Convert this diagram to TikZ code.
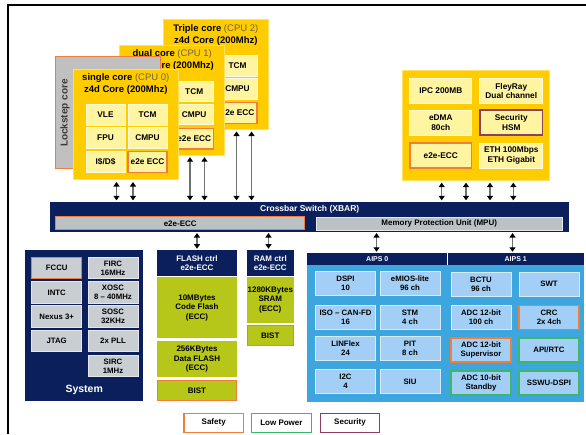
\documentclass[tikz,border=0pt]{standalone}
\usepackage{fontspec}
\setmainfont{Liberation Sans}
\usetikzlibrary{arrows.meta}
\definecolor{coreyel}{HTML}{FFCC00}
\definecolor{coreedge}{HTML}{FFE060}
\definecolor{cellyel}{HTML}{FFF4A0}
\definecolor{cellyelb}{HTML}{FFFBE2}
\definecolor{lockgray}{HTML}{C0C0C0}
\definecolor{locktext}{HTML}{3A3A3A}
\definecolor{cpugray}{HTML}{6E6448}
\definecolor{safety}{HTML}{F07D3A}
\definecolor{lowpow}{HTML}{3DB86B}
\definecolor{secur}{HTML}{8E3D63}
\definecolor{navy}{HTML}{0B1F5C}
\definecolor{sysgray}{HTML}{C9CED3}
\definecolor{sysgrayb}{HTML}{E4E8EC}
\definecolor{flashgreen}{HTML}{B7C71A}
\definecolor{aipsblue}{HTML}{3DA6DE}
\definecolor{cellblue}{HTML}{A3CFF6}
\definecolor{cellblueb}{HTML}{D6EBFB}
\definecolor{bargray}{HTML}{BAC2C6}
\definecolor{arrowgray}{HTML}{707070}
\tikzset{
  base/.style={rectangle, inner sep=0pt, outer sep=0pt, align=center,
    font=\fontsize{8}{9.5}\selectfont\bfseries, text=black},
  corebox/.style={base, fill=coreyel, draw=coreedge, line width=0.6pt,
    minimum width=105pt, minimum height=110pt},
  coretitle/.style={inner sep=0pt, font=\fontsize{9.5}{11}\selectfont\bfseries, text=black},
  ycell/.style={base, fill=cellyel, draw=cellyelb, line width=1pt,
    minimum width=39pt, minimum height=20.5pt, font=\fontsize{8.3}{9.5}\selectfont\bfseries},
  rcell/.style={base, fill=cellyel, draw=cellyelb, line width=1pt,
    minimum height=25pt, font=\fontsize{8.3}{9.5}\selectfont\bfseries},
  scell/.style={base, fill=sysgray, draw=sysgrayb, line width=1pt,
    minimum width=50pt, minimum height=21.5pt, font=\fontsize{7.8}{9}\selectfont\bfseries},
  bcell/.style={base, fill=cellblue, draw=cellblueb, line width=1pt,
    minimum width=60pt, minimum height=24pt, font=\fontsize{7.8}{9}\selectfont\bfseries},
  gcell/.style={base, fill=flashgreen, minimum width=79.4pt},
  navybox/.style={base, fill=navy, text=white},
  safe/.style={draw=safety, line width=1.1pt},
  lowp/.style={draw=lowpow, line width=1.1pt},
  sec/.style={draw=secur, line width=1.1pt},
  legend/.style={base, fill=white, minimum width=59.5pt, minimum height=19pt},
  dbl/.style={draw=arrowgray, line width=1.5pt,
    {Triangle[width=6pt,length=4.5pt,color=black]}-{Triangle[width=6pt,length=4.5pt,color=black]}},
}
\begin{document}
\begin{tikzpicture}[x=1pt,y=-1pt]
\useasboundingbox (0,0) rectangle (586,434);
\draw[line width=2pt] (8.3,434) -- (8.3,5.3) -- (586,5.3);

% ---- Triple core
\node[corebox] (triple) at (215.8,74.5) {};
\node[coretitle] (tripleT1) at (215.8,29) {Triple core {\mdseries\color{cpugray}(CPU 2)}};
\node[coretitle] (tripleT2) at (215.8,41) {z4d Core (200Mhz)};
\node[ycell] (t-tcm) at (237.5,66) {TCM};
\node[ycell] (t-cmpu) at (237.5,89) {CMPU};
\node[ycell, safe] (t-ecc) at (237.5,113) {e2e ECC};

% ---- Dual core
\node[corebox] (dual) at (172.2,100.2) {};
\node[coretitle] (dualT1) at (172.2,54) {dual core {\mdseries\color{cpugray}(CPU 1)}};
\node[coretitle] (dualT2) at (172.2,66) {z4d Core (200Mhz)};
\node[ycell] (d-tcm) at (194.2,91.7) {TCM};
\node[ycell] (d-cmpu) at (194.2,114.7) {CMPU};
\node[ycell, safe] (d-ecc) at (194.2,138.7) {e2e ECC};

% ---- Lockstep
\node[base, fill=lockgray, draw=safety, line width=1pt,
  minimum width=105pt, minimum height=111.6pt] (lock) at (108.2,112.5) {};
\node[font=\fontsize{10}{10}\selectfont\bfseries, text=locktext, rotate=90, inner sep=0pt]
  (locktxt) at (65,113) {Lockstep core};

% ---- Single core
\node[corebox] (single) at (125.8,124) {};
\node[coretitle] (singleT1) at (125.8,78.5) {single core {\mdseries\color{cpugray}(CPU 0)}};
\node[coretitle] (singleT2) at (125.8,90.5) {z4d Core (200Mhz)};
\node[ycell] (s-vle) at (105.5,115) {VLE};
\node[ycell] (s-tcm) at (147.5,115) {TCM};
\node[ycell] (s-fpu) at (105.5,138) {FPU};
\node[ycell] (s-cmpu) at (147.5,138) {CMPU};
\node[ycell] (s-ids) at (105.5,162) {I\$/D\$};
\node[ycell, safe] (s-ecc) at (147.5,162) {e2e ECC};

% ---- Right block
\node[base, fill=coreyel, draw=coreedge, line width=0.6pt,
  minimum width=146.6pt, minimum height=110.7pt] (rblock) at (476,125.3) {};
\node[rcell, minimum width=61.7pt] (ipc) at (440.8,90.8) {IPC 200MB};
\node[rcell, minimum width=62.7pt] (flex) at (511.3,90.8) {FleyRay\\Dual channel};
\node[rcell, minimum width=61.7pt] (edma) at (440.8,122.5) {eDMA\\80ch};
\node[rcell, sec, minimum width=62.7pt] (hsm) at (511.3,122.5) {Security\\HSM};
\node[rcell, safe, minimum width=61.7pt] (recc) at (440.8,155.5) {e2e-ECC};
\node[rcell, minimum width=62.7pt] (eth) at (511.3,155.5) {ETH 100Mbps\\ETH Gigabit};

% ---- Crossbar
\node[navybox, minimum width=518.7pt, minimum height=29.7pt] (xbar) at (309.7,217.2) {};
\node[base, text=white, font=\fontsize{8.5}{9}\selectfont\bfseries] (xbarT) at (309.7,209.6) {Crossbar Switch (XBAR)};
\node[base, fill=bargray, safe, line width=0.9pt, minimum width=249.3pt, minimum height=13pt] (xecc) at (180.2,223.4) {e2e-ECC};
\node[base, fill=bargray, draw=sysgrayb, line width=0.8pt, minimum width=246.5pt, minimum height=13pt] (mpu) at (439.2,223.4) {Memory Protection Unit (MPU)};

% ---- core arrows
\coordinate (a1) at (116.5,0); \coordinate (a2) at (133,0);
\coordinate (a3) at (190,0);   \coordinate (a4) at (204.5,0);
\coordinate (a5) at (236.5,0); \coordinate (a6) at (251.5,0);
\coordinate (r1) at (441.7,0); \coordinate (r2) at (466,0);
\coordinate (r3) at (490,0);   \coordinate (r4) at (513.3,0);
\foreach \c in {a1,a2}
  \draw[dbl, shorten <=3pt, shorten >=2pt] (single.south -| \c) -- (xbar.north -| \c);
\foreach \c in {a3,a4}
  \draw[dbl, shorten <=2pt, shorten >=2pt] (dual.south -| \c) -- (xbar.north -| \c);
\foreach \c in {a5,a6}
  \draw[dbl, shorten <=2pt, shorten >=2pt] (triple.south -| \c) -- (xbar.north -| \c);
\foreach \c in {r1,r2,r3,r4}
  \draw[dbl, shorten <=2pt, shorten >=2pt] (rblock.south -| \c) -- (xbar.north -| \c);

% ---- System
\node[navybox, minimum width=118.3pt, minimum height=150.7pt] (system) at (84.2,325.4) {};
\node[base, text=white, font=\fontsize{10.5}{11}\selectfont\bfseries] (systemT) at (84.2,390) {System};
\node[scell, safe] (fccu) at (56.7,268) {FCCU};
\node[scell] (intc) at (56.7,292.5) {INTC};
\node[scell] (nexus) at (56.7,316.7) {Nexus 3+};
\node[scell] (jtag) at (56.7,340.8) {JTAG};
\node[scell] (firc) at (113,268) {FIRC\\16MHz};
\node[scell] (xosc) at (113,292.5) {XOSC\\8 -- 40MHz};
\node[scell] (sosc) at (113,316.7) {SOSC\\32KHz};
\node[scell] (pll) at (113,340.8) {2x PLL};
\node[scell] (sirc) at (113,365.8) {SIRC\\1MHz};

% ---- Flash
\node[navybox, minimum width=79.4pt, minimum height=26.7pt] (flashc) at (197,263) {FLASH ctrl\\e2e-ECC};
\node[gcell, minimum height=61pt] (cflash) at (197,307.8) {10MBytes\\Code Flash\\(ECC)};
\node[gcell, minimum height=36.3pt] (dflash) at (197,359.2) {256KBytes\\Data FLASH\\(ECC)};
\node[gcell, safe, minimum width=78.4pt, minimum height=19.7pt] (fbist) at (197,390.4) {BIST};

% ---- RAM
\node[navybox, minimum width=47.3pt, minimum height=26.7pt] (ramc) at (270.3,263) {RAM ctrl\\e2e-ECC};
\node[gcell, minimum width=47.3pt, minimum height=45.4pt] (sram) at (270.3,300) {1280KBytes\\SRAM\\(ECC)};
\node[gcell, safe, minimum width=46.3pt, minimum height=20pt] (rbist) at (270.3,335.5) {BIST};

% ---- AIPS
\node[navybox, minimum width=276.7pt, minimum height=12.3pt] (aipsh) at (445.7,258.9) {};
\coordinate (div) at (447.3,0);
\draw[white, line width=0.8pt] (aipsh.north -| div) -- (aipsh.south -| div);
\node[base, text=white, font=\fontsize{7}{8}\selectfont\bfseries] (aips0) at (377.3,259) {AIPS 0};
\node[base, text=white, font=\fontsize{7}{8}\selectfont\bfseries] (aips1) at (515.7,259) {AIPS 1};
\node[base, fill=aipsblue, minimum width=276.7pt, minimum height=137pt] (aipsbox) at (445.7,333.5) {};
\node[bcell] (dspi) at (345.5,283.5) {DSPI\\10};
\node[bcell] (emios) at (410,283.5) {eMIOS-lite\\96 ch};
\node[bcell] (can) at (345.5,317) {ISO -- CAN-FD\\16};
\node[bcell] (stm) at (410,317) {STM\\4 ch};
\node[bcell] (linflex) at (345.5,348.5) {LINFlex\\24};
\node[bcell] (pit) at (410,348.5) {PIT\\8 ch};
\node[bcell] (i2c) at (345.5,381.5) {I2C\\4};
\node[bcell] (siu) at (410,381.5) {SIU};
\node[bcell] (bctu) at (481,284) {BCTU\\96 ch};
\node[bcell] (swt) at (549,284) {SWT};
\node[bcell] (adc1) at (481,317.5) {ADC 12-bit\\100 ch};
\node[bcell, safe] (crc) at (549,317.5) {CRC\\2x 4ch};
\node[bcell, safe] (adc2) at (481,350) {ADC 12-bit\\Supervisor};
\node[bcell, lowp] (api) at (549,350) {API/RTC};
\node[bcell, lowp] (adc3) at (481,383) {ADC 10-bit\\Standby};
\node[bcell, lowp] (sswu) at (549,383) {SSWU-DSPI};

% ---- arrows below crossbar
\coordinate (b1) at (197,0); \coordinate (b2) at (268.5,0);
\coordinate (b3) at (376.5,0); \coordinate (b4) at (512.5,0);
\draw[dbl, shorten <=1pt, shorten >=1pt] (xbar.south -| b1) -- (flashc.north -| b1);
\draw[dbl, shorten <=1pt, shorten >=1pt] (xbar.south -| b2) -- (ramc.north -| b2);
\draw[dbl, shorten <=1pt, shorten >=1pt] (xbar.south -| b3) -- (aipsh.north -| b3);
\draw[dbl, shorten <=1pt, shorten >=1pt] (xbar.south -| b4) -- (aipsh.north -| b4);

% ---- legend
\node[legend, safe] (lsafe) at (213.7,422.8) {Safety};
\node[legend, lowp] (llow) at (281.4,422.8) {Low Power};
\node[legend, sec] (lsec) at (350,422.8) {Security};
\end{tikzpicture}
\end{document}
